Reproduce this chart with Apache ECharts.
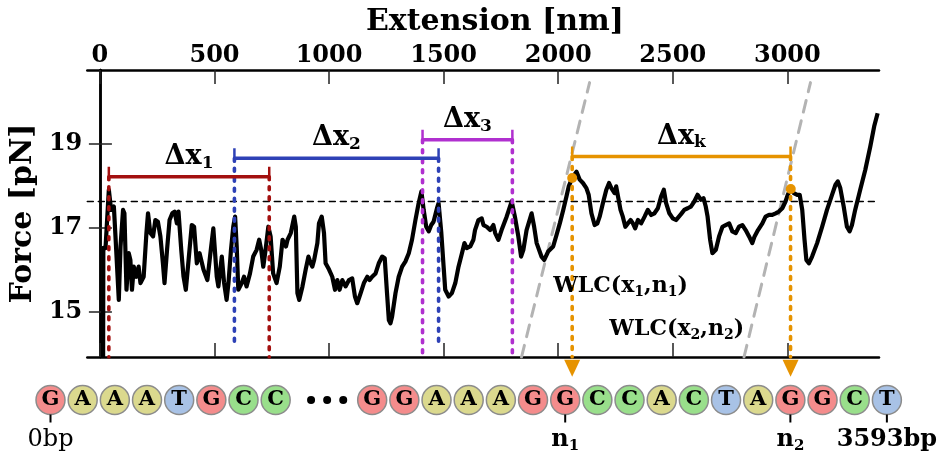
<!DOCTYPE html>
<html>
<head>
<meta charset="utf-8">
<script src="https://cdn.jsdelivr.net/npm/echarts@6/dist/echarts.min.js"></script>
<style>
  html, body { margin: 0; padding: 0; background: #fff; }
  #chart { width: 948px; height: 458px; }
</style>
</head>
<body>
<div id="chart"></div>
<script>
// force–extension trace, [extension nm, force pN]
const trace = [
  [14, 13.9], [15, 16.52], [24.5, 16.51], [39, 17.9], [49, 17.42], [61, 17.5], [68, 16.79], [82.5, 15.28], [90, 16.55], [101, 17.42],
  [107, 17.34], [116, 15.52], [126, 16.39], [133, 16.23], [140, 15.52], [148, 16.07], [159, 15.83], [169, 16.07], [177, 15.68], [191, 15.83],
  [203, 16.87], [210, 17.34], [220, 16.87], [232, 16.79], [242, 17.18], [253, 17.14], [264, 16.79], [275, 16.15], [282, 15.68], [293, 16.47],
  [304, 17.18], [316, 17.34], [326, 17.38], [336, 17.1], [343, 17.38], [355, 16.47], [365, 15.83], [375, 15.52], [387, 16.23], [401, 17.06],
  [411, 17.02], [423, 16.15], [435, 16.39], [452, 16.0], [469, 15.75], [484, 16.47], [495, 16.98], [510, 15.83], [517, 15.6], [532, 16.31],
  [542, 15.68], [553, 15.28], [561, 15.68], [572, 16.47], [582, 17.02], [590, 17.26], [597, 16.55], [604, 15.52], [619, 15.68], [629, 15.83],
  [640, 15.6], [655, 15.91], [669, 16.31], [684, 16.47], [695, 16.71], [704, 16.47], [713, 16.07], [723, 16.47], [735, 17.02], [745, 16.79],
  [756, 15.91], [771, 15.68], [785, 16.07], [797, 16.71], [812, 16.55], [819, 16.71], [833, 16.87], [848, 17.26], [855, 17.02], [862, 15.44],
  [870, 15.28], [884, 15.6], [898, 16.0], [910, 16.31], [920, 16.15], [927, 16.07], [935, 16.23], [949, 16.63], [956, 17.1], [968, 17.26],
  [978, 16.87], [985, 16.15], [1000, 16.0], [1014, 15.83], [1026, 15.52], [1036, 15.75], [1046, 15.52], [1058, 15.75], [1072, 15.6], [1087, 15.75],
  [1101, 15.79], [1113, 15.36], [1123, 15.2], [1138, 15.44], [1152, 15.68], [1167, 15.83], [1177, 15.75], [1188, 15.83], [1203, 15.91], [1217, 16.15],
  [1232, 16.31], [1243, 16.27], [1253, 15.44], [1261, 14.8], [1268, 14.72], [1275, 14.88], [1290, 15.44], [1304, 15.83], [1319, 16.07], [1333, 16.19],
  [1348, 16.39], [1362, 16.71], [1377, 17.18], [1391, 17.58], [1403, 17.86], [1413, 17.42], [1424, 17.02], [1435, 16.91], [1446, 17.06], [1456, 17.14],
  [1471, 17.46], [1478, 17.58], [1490, 16.87], [1500, 16.07], [1507, 15.52], [1522, 15.36], [1536, 15.44], [1551, 15.68], [1565, 16.07], [1580, 16.39],
  [1591, 16.63], [1601, 16.51], [1616, 16.55], [1630, 16.71], [1637, 16.94], [1652, 17.18], [1666, 17.22], [1674, 17.06], [1688, 17.02], [1703, 16.94],
  [1717, 17.06], [1725, 16.87], [1739, 16.71], [1753, 16.94], [1775, 17.26], [1797, 17.62], [1811, 17.26], [1826, 16.79], [1838, 16.31], [1848, 16.47],
  [1862, 16.94], [1884, 17.34], [1895, 17.02], [1906, 16.63], [1927, 16.31], [1939, 16.23], [1956, 16.43], [1978, 16.55], [1993, 16.83], [2007, 17.1],
  [2022, 17.42], [2036, 17.74], [2046, 17.98], [2061, 18.18], [2080, 18.33], [2094, 18.14], [2108, 18.06], [2123, 17.94], [2133, 17.78], [2145, 17.34],
  [2159, 17.06], [2171, 17.1], [2181, 17.26], [2195, 17.58], [2210, 17.9], [2222, 18.06], [2232, 17.94], [2246, 17.82], [2253, 17.98], [2261, 17.74],
  [2272, 17.42], [2282, 17.26], [2293, 17.02], [2304, 17.1], [2316, 17.18], [2326, 17.1], [2336, 16.98], [2348, 17.18], [2362, 17.1], [2377, 17.26],
  [2391, 17.42], [2406, 17.3], [2420, 17.34], [2435, 17.46], [2449, 17.74], [2461, 17.9], [2471, 17.58], [2485, 17.34], [2500, 17.22], [2514, 17.18],
  [2536, 17.32], [2550, 17.42], [2565, 17.46], [2579, 17.5], [2594, 17.62], [2608, 17.78], [2623, 17.66], [2634, 17.7], [2644, 17.5], [2652, 17.26],
  [2663, 16.71], [2673, 16.39], [2688, 16.47], [2702, 16.79], [2717, 17.02], [2731, 17.06], [2746, 17.1], [2760, 16.91], [2775, 16.87], [2789, 17.02],
  [2804, 17.06], [2818, 16.94], [2833, 16.79], [2847, 16.63], [2857, 16.79], [2872, 16.94], [2891, 17.1], [2905, 17.26], [2920, 17.3], [2934, 17.3],
  [2949, 17.34], [2963, 17.38], [2978, 17.46], [2992, 17.62], [3002, 17.78], [3015, 17.92], [3028, 17.82], [3043, 17.78], [3054, 17.78], [3065, 17.42],
  [3075, 16.71], [3083, 16.23], [3094, 16.15], [3108, 16.31], [3130, 16.63], [3152, 17.02], [3173, 17.42], [3195, 17.78], [3210, 18.02], [3220, 18.1],
  [3231, 17.94], [3246, 17.5], [3260, 17.02], [3272, 16.91], [3282, 17.06], [3296, 17.42], [3318, 17.9], [3340, 18.37], [3362, 18.93], [3379, 19.41],
  [3394, 19.72]
]

// axes
const xRange = [-55, 3400]
const yRange = [13.92, 20.75]
const xTicks = [0, 500, 1000, 1500, 2000, 2500, 3000]
const yTicks = [15, 17, 19]
const plateau = 17.62

// step brackets Δx
const spanNames = ['1', '2', '3', 'k']
const spanStart = [39, 587, 1408, 2061]
const spanEnd = [739, 1478, 1800, 3014]
const spanLevel = [18.21, 18.65, 19.09, 18.69]
const spanFloor = [13.92, 14.15, 13.92, 13.92]

// WLC curves and their labels
const wlcLines = [[[1840, 13.92], [2137, 20.45]], [[2811, 13.92], [3101, 20.45]]]
const wlcLabelAt = [[1978, 15.61], [2223, 14.57]]
const wlcIndex = ['1', '2']
const ruptures = [[2061, 18.18], [3015, 17.92]]

// DNA strand
const strandStart = ['G', 'A', 'A', 'A', 'T', 'G', 'C', 'C']
const strandEnd = ['G', 'G', 'A', 'A', 'A', 'G', 'G', 'C', 'C', 'A', 'C', 'T', 'A', 'G', 'G', 'C', 'T']
const gapSlots = [8.1, 8.6, 9.1]
const markSlots = [0, 16, 23, 26]
const markNames = ['0bp', 'n1', 'n2', '3593bp']

const FONT = 'DejaVu Serif'
const spanColors = ['#a3100f', '#2e41b6', '#b030cf', '#e69300']
const baseColors = { G: '#f48c8c', A: '#dbd98e', T: '#a8c2e6', C: '#99df8b' }

const chart = echarts.init(document.getElementById('chart'))

const txt = (size, extra) => Object.assign({ fontFamily: FONT, fontWeight: 'bold', fontSize: size, color: '#000' }, extra)
const frame = { show: true, lineStyle: { color: '#000', width: 2.5 } }
const ticksIn = (vals, len) => ({ show: true, inside: true, length: len, customValues: vals, lineStyle: { color: '#222', width: 1.5 } })
const seg = (pts, color, width, type, z) => ({
  type: 'line', xAxisIndex: 0, yAxisIndex: 0, data: pts, symbol: 'none', silent: true, z: z,
  lineStyle: { color: color, width: width, type: type, cap: type === 'solid' ? 'butt' : 'round' }
})
const solid = { opacity: 1 }

const series = []

wlcLines.forEach(l => series.push(seg(l, '#b3b3b3', 3, [12, 9], 1)))
series.push(seg([[xRange[0], plateau], [xRange[1], plateau]], '#000', 1.5, [6, 5], 3))
series.push(Object.assign(seg(trace, '#000', 4.2, 'solid', 2), { lineStyle: { color: '#000', width: 4.2, join: 'round' } }))

spanNames.forEach((n, i) => {
  const c = spanColors[i]
  ;[spanStart[i], spanEnd[i]].forEach(x => {
    series.push(seg([[x, spanLevel[i]], [x, spanFloor[i]]], c, 3.6, [3, 7], 4))
    series.push(seg([[x, spanLevel[i] + 0.24], [x, spanLevel[i] - 0.1]], c, 2.5, 'solid', 5))
  })
  series.push(seg([[spanStart[i], spanLevel[i]], [spanEnd[i], spanLevel[i]]], c, 3.5, 'solid', 5))
})

// Δx labels
series.push({
  type: 'scatter', xAxisIndex: 0, yAxisIndex: 0, symbolSize: 0, silent: true, z: 6, itemStyle: solid,
  data: spanNames.map((n, i) => ({ value: [(spanStart[i] + spanEnd[i]) / 2, spanLevel[i]], name: n })),
  label: {
    show: true, position: 'top', distance: 5,
    formatter: p => '{m|Δx}{s|' + p.name + '}',
    rich: { m: txt(27, { lineHeight: 30 }), s: txt(17, { lineHeight: 14, verticalAlign: 'bottom' }) }
  }
})

// WLC labels
series.push({
  type: 'scatter', xAxisIndex: 0, yAxisIndex: 0, symbolSize: 0, silent: true, z: 6, itemStyle: solid,
  data: wlcLabelAt.map((p, i) => ({ value: p, name: wlcIndex[i] })),
  label: {
    show: true, position: 'right', distance: 0,
    formatter: p => '{m|WLC(x}{s|' + p.name + '}{m|,n}{s|' + p.name + '}{m|)}',
    rich: { m: txt(22, { lineHeight: 26 }), s: txt(14, { lineHeight: 12, verticalAlign: 'bottom' }) }
  }
})

// rupture points and arrows onto the strand
series.push({
  type: 'scatter', xAxisIndex: 0, yAxisIndex: 0, symbol: 'circle', symbolSize: 10, silent: true, z: 7,
  itemStyle: { color: spanColors[3], opacity: 1 }, data: ruptures
})
series.push({
  type: 'scatter', xAxisIndex: 0, yAxisIndex: 0, symbol: 'triangle', symbolRotate: 180, symbolSize: [16, 17],
  clip: false, silent: true, z: 7, itemStyle: { color: spanColors[3], opacity: 1 },
  data: [spanStart[3], spanEnd[3]].map(x => [x, 13.65])
})

// strand beads
const beads = strandStart.map((b, i) => ({ value: [i, 0], name: b }))
  .concat(strandEnd.map((b, i) => ({ value: [10 + i, 0], name: b })))
series.push({
  type: 'scatter', xAxisIndex: 1, yAxisIndex: 2, symbol: 'circle', symbolSize: 29, silent: true,
  data: beads.map(d => Object.assign(d, { itemStyle: { color: baseColors[d.name], borderColor: '#8c8c8c', borderWidth: 1.5, opacity: 1 } })),
  label: { show: true, position: 'inside', formatter: '{b}', ...txt(21) }
})
series.push({
  type: 'scatter', xAxisIndex: 1, yAxisIndex: 2, symbol: 'circle', symbolSize: 8, silent: true,
  itemStyle: { color: '#000', opacity: 1 }, data: gapSlots.map(s => [s, 0])
})
series.push({
  type: 'scatter', xAxisIndex: 1, yAxisIndex: 2, symbol: 'rect', symbolSize: [2, 8], silent: true,
  itemStyle: { color: '#000', opacity: 1 }, data: markSlots.map(s => [s, 1.85])
})
series.push({
  type: 'scatter', xAxisIndex: 1, yAxisIndex: 2, symbolSize: 0, silent: true, itemStyle: solid,
  data: markSlots.map((s, i) => ({ value: [s, 3.95], name: markNames[i] })),
  label: {
    show: true, position: 'inside',
    formatter: p => {
      const t = p.name
      if (t[0] === 'n') return '{m|n}{s|' + t.slice(1) + '}'
      if (t === '0bp') return '{r|' + t + '}'
      return '{m|' + t + '}'
    },
    rich: {
      m: txt(24, { lineHeight: 28 }),
      r: txt(24, { lineHeight: 28, fontWeight: 'normal' }),
      s: txt(15, { lineHeight: 12, verticalAlign: 'bottom' })
    }
  }
})

chart.setOption({
  animation: false,
  backgroundColor: '#fff',
  title: {
    text: 'Extension [nm]', left: 490, top: 2, textAlign: 'center',
    textStyle: txt(30)
  },
  grid: [
    { left: 84, right: 69, top: 70, bottom: 101 },
    { left: 0, right: 0, top: 358, bottom: 0 }
  ],
  xAxis: [
    {
      type: 'value', gridIndex: 0, position: 'top', min: xRange[0], max: xRange[1],
      axisLine: frame, axisTick: ticksIn(xTicks, 14), splitLine: { show: false },
      axisLabel: { customValues: xTicks, margin: 2, formatter: v => String(v), ...txt(24) }
    },
    { type: 'value', gridIndex: 1, min: -1.57, max: 27.9, show: false },
    {
      type: 'value', gridIndex: 0, position: 'bottom', min: xRange[0], max: xRange[1],
      axisLine: frame, axisTick: ticksIn(xTicks, 14), axisLabel: { show: false }, splitLine: { show: false }
    }
  ],
  yAxis: [
    {
      type: 'value', gridIndex: 0, position: 'left', min: yRange[0], max: yRange[1],
      axisLine: frame, axisTick: ticksIn(yTicks, 12), splitLine: { show: false },
      axisLabel: { customValues: yTicks, margin: 5, ...txt(24) },
      name: 'Force [pN]', nameLocation: 'middle', nameGap: 48, nameTextStyle: txt(30)
    },
    {
      type: 'value', gridIndex: 0, position: 'right', min: yRange[0], max: yRange[1],
      axisLine: frame, axisTick: ticksIn(yTicks, 11), axisLabel: { show: false }, splitLine: { show: false }
    },
    { type: 'value', gridIndex: 1, min: -4.2, max: 5.8, inverse: true, show: false }
  ],
  series: series
})
</script>
</body>
</html>
